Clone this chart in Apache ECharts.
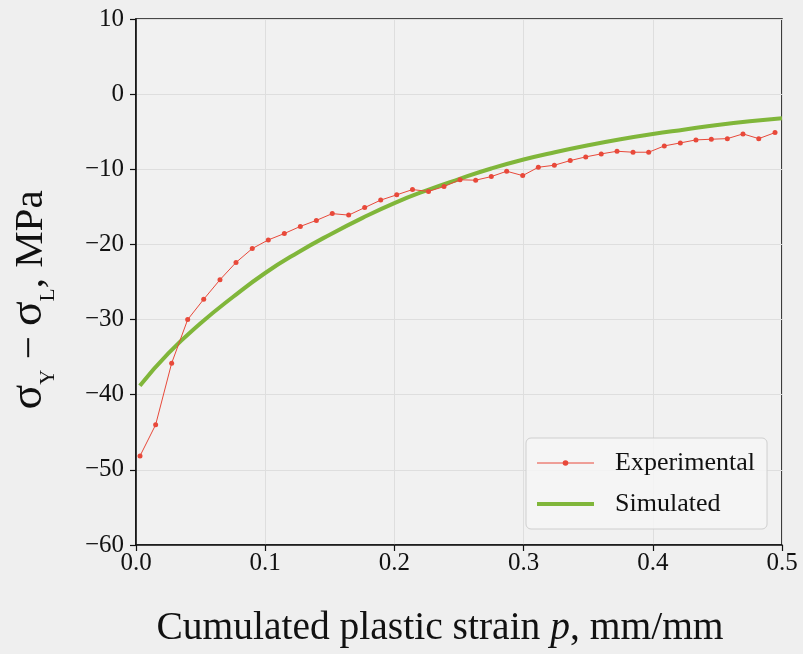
<!DOCTYPE html>
<html>
<head>
<meta charset="utf-8">
<script src="https://cdn.jsdelivr.net/npm/echarts@6/dist/echarts.min.js"></script>
<style>
html,body{margin:0;padding:0;background:#efefef;}
#c{width:803px;height:654px;}
</style>
</head>
<body>
<div id="c"></div>
<script>
// Experimental data (strain p, stress difference MPa)
var expX = [0.0031,0.0152,0.0276,0.0400,0.0524,0.0650,0.0774,0.0900,0.1024,0.1148,
            0.1272,0.1396,0.1519,0.1646,0.1770,0.1894,0.2018,0.2140,0.2264,0.2384,
            0.2508,0.2629,0.2750,0.2869,0.2993,0.3114,0.3238,0.3361,0.3481,0.3601,
            0.3723,0.3847,0.3968,0.4089,0.4213,0.4334,0.4453,0.4577,0.4698,0.4820,0.4946];
var expY = [-48.15,-44.0,-35.8,-30.0,-27.3,-24.7,-22.4,-20.55,-19.4,-18.55,
            -17.6,-16.8,-15.9,-16.1,-15.1,-14.1,-13.4,-12.7,-12.95,-12.3,
            -11.4,-11.45,-10.97,-10.26,-10.84,-9.73,-9.46,-8.84,-8.35,-7.95,
            -7.6,-7.73,-7.73,-6.89,-6.49,-6.09,-6.0,-5.92,-5.29,-5.92,-5.12];
// Simulated curve
var simX = [0.003,0.025,0.05,0.075,0.1,0.125,0.15,0.175,0.2,0.225,0.25,
            0.275,0.3,0.325,0.35,0.375,0.4,0.425,0.45,0.475,0.5];
var simY = [-38.8,-34.5,-30.5,-27.0,-23.8,-21.1,-18.7,-16.5,-14.5,-12.8,-11.3,
            -9.9,-8.7,-7.7,-6.8,-6.0,-5.3,-4.7,-4.1,-3.6,-3.2];
var xTicks = [0,0.1,0.2,0.3,0.4,0.5];
var yTicks = [-60,-50,-40,-30,-20,-10,0,10];
var seriesNames = ['Experimental','Simulated'];

function pairs(xs, ys){ return xs.map(function(x,i){ return [x, ys[i]]; }); }

var FONT = '"Liberation Serif","DejaVu Serif",serif';
var chart = echarts.init(document.getElementById('c'), null, {renderer:'canvas'});
chart.setOption({
  backgroundColor: '#efefef',
  animation: false,
  grid: {
    left: 136, right: 21, top: 19, bottom: 109,
    outerBoundsMode: 'none', containLabel: false,
    show: true, backgroundColor: 'rgba(255,255,255,0.12)',
    borderColor: '#111', borderWidth: 1.6
  },
  xAxis: {
    type: 'value', min: xTicks[0], max: xTicks[xTicks.length-1], interval: 0.1,
    axisLine: {show: true, onZero: false, lineStyle: {color: '#111', width: 1.6}},
    axisTick: {show: true, length: 6, lineStyle: {color: '#111', width: 1.2}},
    axisLabel: {
      color: '#111', fontFamily: FONT, fontSize: 25, margin: 6,
      formatter: function(v){ return v.toFixed(1); }
    },
    splitLine: {show: true, lineStyle: {color: '#dedede', width: 1}},
    name: '{a|Cumulated plastic strain }{i|p}{a|, mm/mm}',
    nameLocation: 'middle', nameGap: 64,
    nameTextStyle: {
      padding: [0, 38, 0, 0],
      rich: {
        a: {fontFamily: FONT, fontSize: 39.5, color: '#111'},
        i: {fontFamily: FONT, fontSize: 39.5, color: '#111', fontStyle: 'italic'}
      }
    }
  },
  yAxis: {
    type: 'value', min: yTicks[0], max: yTicks[yTicks.length-1], interval: 10,
    axisLine: {show: true, onZero: false, lineStyle: {color: '#111', width: 1.6}},
    axisTick: {show: true, length: 6, lineStyle: {color: '#111', width: 1.2}},
    axisLabel: {
      color: '#111', fontFamily: FONT, fontSize: 25, margin: 12,
      formatter: function(v){ return v < 0 ? '\u2212' + Math.abs(v) : String(v); }
    },
    splitLine: {show: true, lineStyle: {color: '#dedede', width: 1}},
    name: '{s|σ}{b|Y}{m| − }{s|σ}{b|L}{m|, MPa}',
    nameLocation: 'middle', nameGap: 84, nameRotate: 90,
    nameTextStyle: {
      padding: [0, 36, 0, 0],
      rich: {
        s: {fontFamily: FONT, fontSize: 46, color: '#111', verticalAlign: 'bottom', lineHeight: 44},
        m: {fontFamily: FONT, fontSize: 41, color: '#111', verticalAlign: 'bottom', lineHeight: 44},
        b: {fontFamily: FONT, fontSize: 21, color: '#111', verticalAlign: 'bottom', lineHeight: 44, padding: [0,0,-7,0]}
      }
    }
  },
  legend: {
    left: 526, top: 438, orient: 'vertical',
    padding: [10, 12, 10, 9],
    backgroundColor: 'rgba(246,246,246,0.85)',
    borderColor: '#cfcfcf', borderWidth: 1, borderRadius: 5,
    itemWidth: 57, itemHeight: 7, itemGap: 11,
    textStyle: {fontFamily: FONT, fontSize: 26, color: '#111', lineHeight: 30, padding: [0,0,0,16]},
    data: [
      {name: seriesNames[0], lineStyle: {width: 1}},
      {name: seriesNames[1], itemStyle: {opacity: 0}, lineStyle: {width: 4}}
    ]
  },
  series: [
    {
      name: seriesNames[0], type: 'line', data: pairs(expX, expY),
      symbol: 'circle', symbolSize: 5, showSymbol: true,
      lineStyle: {color: '#e8493a', width: 1},
      itemStyle: {color: '#e8493a'},
      z: 3
    },
    {
      name: seriesNames[1], type: 'line', data: pairs(simX, simY),
      smooth: true, symbol: 'none', showSymbol: false,
      lineStyle: {color: '#80b63a', width: 4},
      itemStyle: {color: '#80b63a'},
      z: 2
    }
  ]
});
</script>
</body>
</html>
